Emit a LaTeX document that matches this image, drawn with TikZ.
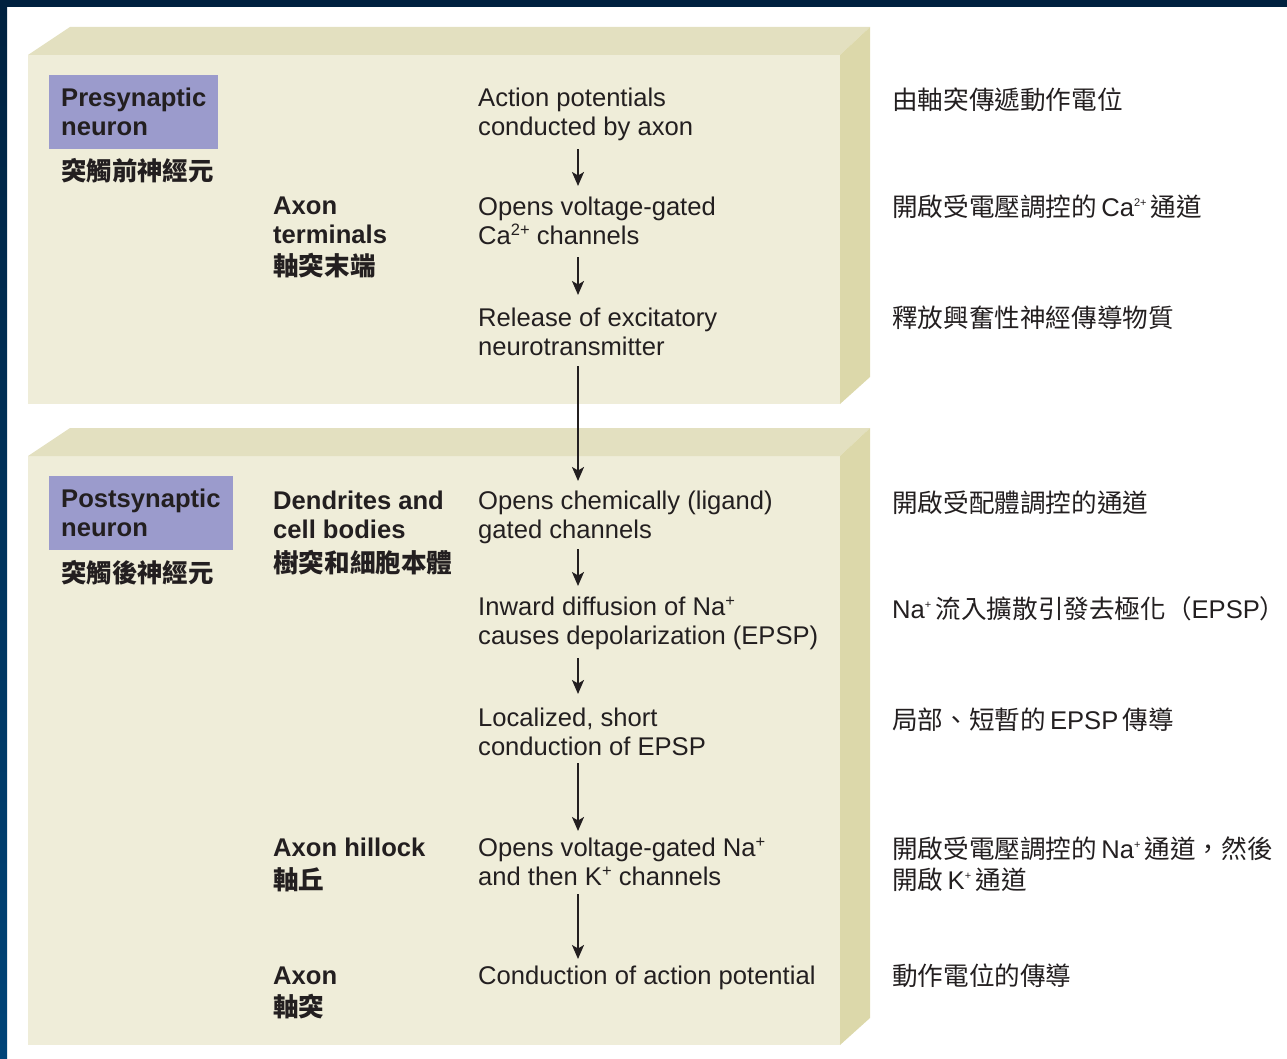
\documentclass[tikz,border=0pt]{standalone}
\usepackage{fontspec}
\setmainfont{Liberation Sans}
\newfontfamily\cjk{Noto Sans CJK TC}
\usepackage{tikz}
\usetikzlibrary{arrows.meta, positioning}

\definecolor{navy}{RGB}{0,33,63}
\definecolor{navylow}{RGB}{0,68,120}
\definecolor{boxface}{RGB}{239,237,217}
\definecolor{boxtop}{RGB}{227,224,192}
\definecolor{boxside}{RGB}{220,216,170}
\definecolor{lavender}{RGB}{155,155,204}
\definecolor{ink}{RGB}{35,31,32}

% raised charges
\newcommand{\bigsc}[1]{\raisebox{9pt}[0pt][0pt]{\fontsize{16.5}{16}\selectfont #1}}
\newcommand{\upsc}[1]{\raisebox{10pt}[0pt][0pt]{\fontsize{11}{11}\selectfont #1}}

\tikzset{
  stage/.style={anchor=north west, inner sep=0pt, align=left, text=ink,
    font=\fontsize{25.6}{29}\selectfont},
  part/.style={stage, font=\fontsize{25.6}{29}\selectfont\bfseries},
  tag/.style={anchor=north west, fill=lavender, inner xsep=12pt, inner ysep=13pt,
    align=left, text=ink, font=\fontsize{25.6}{29}\selectfont\bfseries},
  cnote/.style={anchor=base west, inner sep=0pt, align=left, text=ink,
    font=\fontsize{25.6}{31}\selectfont\cjk},
  clabel/.style={cnote, font=\fontsize{25.4}{31}\selectfont\cjk\bfseries},
  flow/.style={-{Stealth[length=14pt,width=12pt,inset=3.5pt]}, line width=2pt,
    draw=ink, shorten <=8pt, shorten >=11pt}
}

\begin{document}
\begin{tikzpicture}[x=1pt, y=-1pt]
\useasboundingbox (0,0) rectangle (1287,1059);

% frame strips
\fill[navy] (0,0) rectangle (1287,7);
\shade[top color=navy, bottom color=navylow] (0,0) rectangle (7,1059);

% presynaptic slab
\fill[boxface] (28,55) rectangle (840,404);
\fill[boxtop] (28,55) -- (70,27) -- (870,27) -- (840,55) -- cycle;
\fill[boxside] (840,55) -- (870,27) -- (870,377) -- (840,404) -- cycle;

% postsynaptic slab
\fill[boxface] (28,456) rectangle (840,1045);
\fill[boxtop] (28,456) -- (70,428) -- (870,428) -- (840,456) -- cycle;
\fill[boxside] (840,456) -- (870,428) -- (870,1018) -- (840,1045) -- cycle;

% left column
\node[tag] (pre) at (49,75) {Presynaptic\\neuron};
\node[clabel] (precn) at (61,181) {突觸前神經元};
\node[tag] (post) at (49,476) {Postsynaptic\\neuron};
\node[clabel] (postcn) at (61,582) {突觸後神經元};

% parts of the neuron
\node[part] (term) at (273,197) {Axon\\terminals\\[3pt]{\cjk 軸突末端}};
\node[part] (dend) at (273,491) {Dendrites and\\cell bodies\\[5pt]{\cjk 樹突和細胞本體}};
\node[part] (hill) at (273,838) {Axon hillock\\[4pt]{\cjk 軸丘}};
\node[part] (axon) at (273,967) {Axon\\[3pt]{\cjk 軸突}};

% events
\node[stage] (ap) at (478,88) {Action potentials\\conducted by axon};
\node[stage] (cag) at (478,197) {Opens voltage-gated\\Ca\bigsc{2+} channels};
\node[stage] (rel) at (478,308) {Release of excitatory\\neurotransmitter};
\node[stage] (lig) at (478,491) {Opens chemically (ligand)\\gated channels};
\node[stage] (nain) at (478,597) {Inward diffusion of Na\bigsc{+}\\causes depolarization (EPSP)};
\node[stage] (loc) at (478,708) {Localized, short\\conduction of EPSP};
\node[stage] (vgna) at (478,838) {Opens voltage-gated Na\bigsc{+}\\and then K\bigsc{+} channels};
\node[stage] (cond) at (478,966) {Conduction of action potential};

% translations
\node[cnote] (t1) at (892,110) {由軸突傳遞動作電位};
\node[cnote] (t2) at (892,217) {開啟受電壓調控的\,{\rmfamily Ca\upsc{2+}}\,通道};
\node[cnote] (t3) at (892,327) {釋放興奮性神經傳導物質};
\node[cnote] (t4) at (892,512) {開啟受配體調控的通道};
\node[cnote] (t5) at (892,618) {{\rmfamily Na\upsc{+}}\,流入擴散引發去極化（{\rmfamily EPSP}）};
\node[cnote] (t6) at (892,729) {局部、短暫的\,{\rmfamily EPSP}\,傳導};
\node[cnote] (t7) at (892,889) {開啟受電壓調控的\,{\rmfamily Na\upsc{+}}\,通道，然後\\開啟\,{\rmfamily K\upsc{+}}\,通道};
\node[cnote] (t8) at (892,985) {動作電位的傳導};

% arrows
\coordinate (ax) at (578,0);
\draw[flow] (ax |- ap.south) -- (ax |- cag.north);
\draw[flow, shorten <=12pt, shorten >=13pt] (ax |- cag.south) -- (ax |- rel.north);
\draw[flow, shorten <=10pt, shorten >=10pt] (ax |- rel.south) -- (ax |- lig.north);
\draw[flow, shorten <=5pt] (ax |- lig.south) -- (ax |- nain.north);
\draw[flow, shorten >=14pt] (ax |- nain.south) -- (ax |- loc.north);
\draw[flow, shorten <=7pt, shorten >=7pt] (ax |- loc.south) -- (ax |- vgna.north);
\draw[flow, shorten >=7pt] (ax |- vgna.south) -- (ax |- cond.north);
\end{tikzpicture}
\end{document}
